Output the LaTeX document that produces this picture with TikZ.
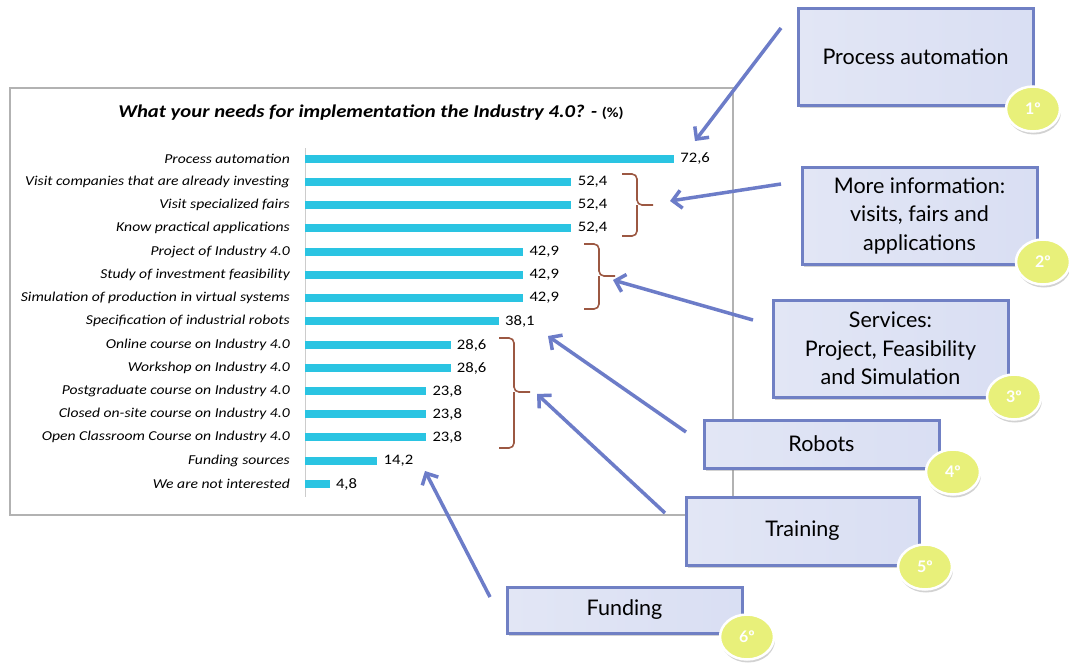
\documentclass[tikz,border=0pt]{standalone}
\usepackage{fontspec}
\setmainfont{Carlito}
\newfontfamily\chartfont[FakeStretch=1.15]{Carlito}
\newfontfamily\boxfont{Lato}
\usepackage{xcolor}
\usetikzlibrary{positioning,arrows.meta,shapes.geometric,shadows}

\definecolor{barcyan}{RGB}{42,196,226}
\definecolor{bracebrown}{RGB}{156,88,66}
\definecolor{arrowblue}{RGB}{108,124,200}
\definecolor{boxedge}{RGB}{112,128,196}
\definecolor{boxlight}{RGB}{226,230,245}
\definecolor{boxdark}{RGB}{196,205,237}
\definecolor{badgeyellow}{RGB}{232,240,122}

\tikzset{
  lbl/.style={anchor=east, inner sep=0pt, font=\chartfont\fontsize{13.6}{16}\selectfont\itshape},
  bar/.style={anchor=west, fill=barcyan, minimum height=8pt, inner sep=0pt},
  val/.style={right=6pt of #1, inner sep=0pt, font=\chartfont\fontsize{14.5}{16}\selectfont},
  brc/.style={draw=bracebrown, line width=1.6pt, rounded corners=5pt},
  arr/.style={draw=arrowblue, line width=3.5pt, -{Straight Barb[length=9pt,width=18pt]}, line join=round},
  callout/.style={draw=boxedge, line width=3pt, left color=boxlight, middle color=boxdark, right color=boxlight!70!boxdark,
    drop shadow={shadow xshift=2pt, shadow yshift=-3pt, opacity=0.35},
    align=center, inner sep=0pt, font=\boxfont\fontsize{21.5}{28.5}\selectfont},
  badge/.style={ellipse, fill=badgeyellow, draw=white, line width=2.5pt, minimum width=54pt, minimum height=45pt,
    drop shadow={shadow xshift=1pt, shadow yshift=-3pt, opacity=0.35},
    text=white, font=\boxfont\bfseries\fontsize{16}{18}\selectfont}
}

\begin{document}
\begin{tikzpicture}[x=1pt,y=-1pt]
  \fill[white] (0,0) rectangle (1069,664);
  \useasboundingbox (0,0) rectangle (1069,664);

  % chart frame and axis
  \draw[gray!60, line width=1.8pt] (10,88) rectangle (733,515);
  \draw[gray!40, line width=0.8pt] (305,148) -- (305,497);
  \node[font=\chartfont\fontsize{18}{20}\selectfont\bfseries\itshape] (title) at (371,113)
    {What your needs for implementation the Industry 4.0? - {\upshape\fontsize{14}{16}\selectfont(\%)}};

  % bars
  \node[lbl] (l1) at (290,159) {Process automation};
  \node[bar, minimum width=368.8pt] (b1) at (305,159) {};
  \node[val=b1] (v1) {72,6};
  \node[lbl] (l2) at (290,182) {Visit companies that are already investing};
  \node[bar, minimum width=266.2pt] (b2) at (305,182) {};
  \node[val=b2] (v2) {52,4};
  \node[lbl] (l3) at (290,205) {Visit specialized fairs};
  \node[bar, minimum width=266.2pt] (b3) at (305,205) {};
  \node[val=b3] (v3) {52,4};
  \node[lbl] (l4) at (290,228) {Know practical applications};
  \node[bar, minimum width=266.2pt] (b4) at (305,228) {};
  \node[val=b4] (v4) {52,4};
  \node[lbl] (l5) at (290,252) {Project of Industry 4.0};
  \node[bar, minimum width=217.9pt] (b5) at (305,252) {};
  \node[val=b5] (v5) {42,9};
  \node[lbl] (l6) at (290,275) {Study of investment feasibility};
  \node[bar, minimum width=217.9pt] (b6) at (305,275) {};
  \node[val=b6] (v6) {42,9};
  \node[lbl] (l7) at (290,298) {Simulation of production in virtual systems};
  \node[bar, minimum width=217.9pt] (b7) at (305,298) {};
  \node[val=b7] (v7) {42,9};
  \node[lbl] (l8) at (290,321) {Specification of industrial robots};
  \node[bar, minimum width=193.5pt] (b8) at (305,321) {};
  \node[val=b8] (v8) {38,1};
  \node[lbl] (l9) at (290,345) {Online course on Industry 4.0};
  \node[bar, minimum width=145.3pt] (b9) at (305,345) {};
  \node[val=b9] (v9) {28,6};
  \node[lbl] (l10) at (290,368) {Workshop on Industry 4.0};
  \node[bar, minimum width=145.3pt] (b10) at (305,368) {};
  \node[val=b10] (v10) {28,6};
  \node[lbl] (l11) at (290,391) {Postgraduate course on Industry 4.0};
  \node[bar, minimum width=120.9pt] (b11) at (305,391) {};
  \node[val=b11] (v11) {23,8};
  \node[lbl] (l12) at (290,414) {Closed on-site course on Industry 4.0};
  \node[bar, minimum width=120.9pt] (b12) at (305,414) {};
  \node[val=b12] (v12) {23,8};
  \node[lbl] (l13) at (290,437) {Open Classroom Course on Industry 4.0};
  \node[bar, minimum width=120.9pt] (b13) at (305,437) {};
  \node[val=b13] (v13) {23,8};
  \node[lbl] (l14) at (290,461) {Funding sources};
  \node[bar, minimum width=72.1pt] (b14) at (305,461) {};
  \node[val=b14] (v14) {14,2};
  \node[lbl] (l15) at (290,484) {We are not interested};
  \node[bar, minimum width=24.4pt] (b15) at (305,484) {};
  \node[val=b15] (v15) {4,8};

  % braces
  \draw[brc] (622,174) -| (637,205) -- (653,205);
  \draw[brc] (637,205) |- (622,236);
  \draw[brc] (584,244) -| (599,276) -- (615,276);
  \draw[brc] (599,276) |- (584,309);
  \draw[brc] (499,338) -| (514,392) -- (530,392);
  \draw[brc] (514,392) |- (499,448);

  % callouts
  \node[callout, minimum width=235pt, minimum height=97pt] (automation) at (915.5,56.5) {Process automation};
  \node[callout, minimum width=235pt, minimum height=97pt] (info) at (919.5,215.5) {More information:\\visits, fairs and\\applications};
  \node[callout, minimum width=235pt, minimum height=97pt] (services) at (890.5,348.5) {Services:\\Project, Feasibility\\and Simulation};
  \node[callout, minimum width=235pt, minimum height=48pt] (robots) at (821.5,444) {Robots};
  \node[callout, minimum width=233pt, minimum height=68pt] (training) at (802.5,531) {Training};
  \node[callout, minimum width=235pt, minimum height=46pt] (funding) at (624.5,610) {Funding};

  \node[badge] (n1) at (1033,109) {1º};
  \node[badge] (n2) at (1043,262) {2º};
  \node[badge] (n3) at (1014,397) {3º};
  \node[badge] (n4) at (953,472) {4º};
  \node[badge] (n5) at (925,567) {5º};
  \node[badge] (n6) at (747,637) {6º};

  % arrows
  \coordinate (s1) at (781,28);   \coordinate (t1) at (695,141);
  \coordinate (s2) at (781,184);  \coordinate (t2) at (670,201);
  \coordinate (s3) at (753,320);  \coordinate (t3) at (613,280);
  \coordinate (s4) at (686,432);  \coordinate (t4) at (548,336);
  \coordinate (s5) at (665,513);  \coordinate (t5) at (537,394);
  \coordinate (s6) at (490,597);  \coordinate (t6) at (425,471);
  \draw[arr] (s1) -- (t1);
  \draw[arr] (s2) -- (t2);
  \draw[arr] (s3) -- (t3);
  \draw[arr] (s4) -- (t4);
  \draw[arr] (s5) -- (t5);
  \draw[arr] (s6) -- (t6);
\end{tikzpicture}
\end{document}
